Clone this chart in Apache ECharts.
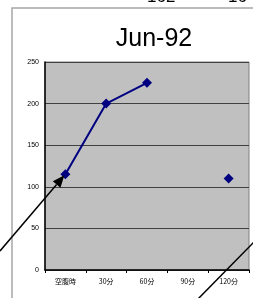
<!DOCTYPE html>
<html>
<head>
<meta charset="utf-8">
<script src="https://cdn.jsdelivr.net/npm/echarts@6/dist/echarts.min.js"></script>
<style>
  html, body { margin: 0; padding: 0; background: #fff; }
  #chart { width: 253px; height: 298px; }
</style>
</head>
<body>
<div id="chart"></div>
<script>
const titleText = "Jun-92";
const categories = ["空腹時", "30分", "60分", "90分", "120分"];
const values = [115, 200, 225, null, 110];
const yTicks = { min: 0, max: 250, step: 50 };
// cut-off labels from the sheet above the chart
const topLabels = ["162", "16"];

const chart = echarts.init(document.getElementById("chart"), null, { renderer: "canvas" });

const font = "Arial, 'Liberation Sans', sans-serif";

chart.setOption({
  animation: false,
  backgroundColor: "#fff",
  grid: {
    left: 45, top: 62, width: 204, height: 208,
    show: true, backgroundColor: "#c0c0c0",
    borderColor: "#808080", borderWidth: 1
  },
  xAxis: {
    type: "category",
    data: categories,
    boundaryGap: true,
    axisLine: { lineStyle: { color: "#000", width: 1.5 } },
    axisTick: { show: true, length: 3, lineStyle: { color: "#000" } },
    axisLabel: { fontSize: 7, color: "#000", margin: 8, fontFamily: "'Noto Sans CJK JP', sans-serif" },
    splitLine: { show: false }
  },
  yAxis: {
    type: "value",
    min: yTicks.min, max: yTicks.max, interval: yTicks.step,
    axisLine: { show: true, lineStyle: { color: "#000", width: 1.5 } },
    axisTick: { show: false },
    axisLabel: { fontSize: 7, color: "#000", margin: 6, fontFamily: font },
    splitLine: { lineStyle: { color: "#404040", width: 1 } }
  },
  series: [{
    type: "line",
    data: values,
    connectNulls: false,
    showAllSymbol: true,
    symbol: "diamond",
    symbolSize: 10,
    lineStyle: { color: "#000080", width: 2 },
    itemStyle: { color: "#000080" }
  }]
});

// arrow pointing to the first point, plus the stray line at lower right
const tip = chart.convertToPixel({ seriesIndex: 0 }, [0, values[0]]);
const tx = tip[0] - 1, ty = tip[1] + 1;
const sx = 0, sy = 251;
const ang = Math.atan2(ty - sy, tx - sx);
const hl = 12, hw = 5;
const bx = tx - hl * Math.cos(ang), by = ty - hl * Math.sin(ang);
const nx = -Math.sin(ang), ny = Math.cos(ang);

chart.setOption({
  graphic: [
    {
      type: "polyline", silent: true, z: 1,
      shape: { points: [[12, 300], [12, 8], [255, 8]] },
      style: { stroke: "#a6a6a6", lineWidth: 1.5, fill: null }
    },
    {
      type: "text", x: 154, y: 39, z: 10,
      style: {
        text: titleText, font: "normal 25px " + font, fill: "#000",
        align: "center", verticalAlign: "middle"
      }
    },
    {
      type: "text", z: 10, x: 147, y: 6,
      style: { text: topLabels[0], font: "normal 17px " + font, fill: "#000", verticalAlign: "bottom" }
    },
    {
      type: "text", z: 10, x: 228, y: 6,
      style: { text: topLabels[1], font: "normal 17px " + font, fill: "#000", verticalAlign: "bottom" }
    },
    {
      type: "line", z: 100, silent: true,
      shape: { x1: sx, y1: sy, x2: bx, y2: by },
      style: { stroke: "#000", lineWidth: 1.5 }
    },
    {
      type: "polygon", z: 100, silent: true,
      shape: { points: [[tx, ty], [bx + nx * hw, by + ny * hw], [bx - nx * hw, by - ny * hw]] },
      style: { fill: "#000" }
    },
    {
      type: "line", z: 100, silent: true,
      shape: { x1: 197, y1: 300, x2: 256, y2: 240 },
      style: { stroke: "#000", lineWidth: 1.5 }
    }
  ]
});
</script>
</body>
</html>
